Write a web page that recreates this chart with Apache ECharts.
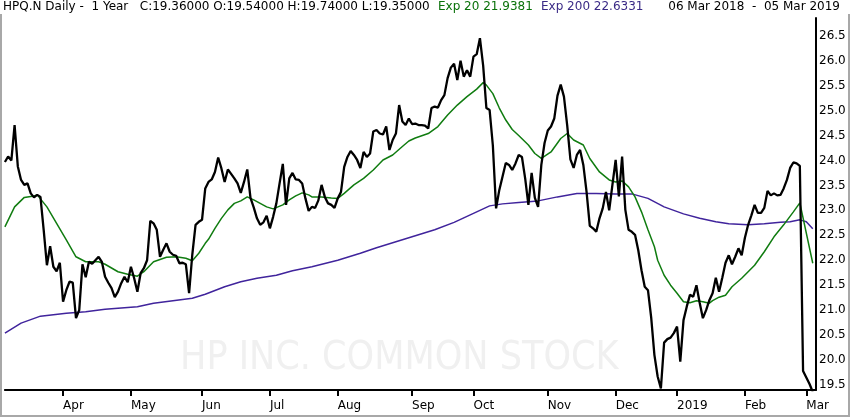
<!DOCTYPE html>
<html>
<head>
<meta charset="UTF-8">
<title>HPQ.N Daily</title>
<script src="https://cdn.jsdelivr.net/npm/echarts@6/dist/echarts.min.js"></script>
<style>
    html, body { margin: 0; padding: 0; background: #fff; }
    #main { width: 850px; height: 417px; }
</style>
</head>
<body>
<div id="main"></div>
<script>
    // trading days per month, 06 Mar 2018 .. 05 Mar 2019
    const monthLabels = ['', 'Apr', 'May', 'Jun', 'Jul', 'Aug', 'Sep', 'Oct', 'Nov', 'Dec', '2019', 'Feb', 'Mar'];
    const monthDays = [18, 21, 22, 21, 21, 23, 19, 23, 21, 19, 21, 19, 3];

    // daily close
    const closes = [
        23.97, 24.08, 24.00, 24.71, 23.88, 23.61, 23.51, 23.54, 23.34, 23.26,
        23.31, 23.27, 22.61, 21.90, 22.28, 21.87, 21.78, 21.95, 21.17, 21.40,
        21.57, 21.55, 20.84, 21.00, 21.92, 21.66, 21.97, 21.93, 22.00, 22.07,
        21.97, 21.67, 21.55, 21.44, 21.26, 21.37, 21.54, 21.67, 21.56, 21.87,
        21.64, 21.37, 21.74, 21.84, 22.00, 22.79, 22.74, 22.61, 22.07, 22.21,
        22.34, 22.17, 22.11, 22.09, 21.94, 21.95, 21.92, 21.34, 22.12, 22.71,
        22.77, 22.81, 23.44, 23.57, 23.62, 23.77, 24.06, 23.84, 23.57, 23.82,
        23.73, 23.64, 23.54, 23.35, 23.57, 23.82, 23.25, 23.06, 22.84, 22.71,
        22.76, 22.89, 22.64, 22.87, 23.14, 23.54, 23.93, 23.11, 23.64, 23.75,
        23.62, 23.61, 23.54, 23.24, 22.99, 23.07, 23.05, 23.20, 23.51, 23.27,
        23.14, 23.11, 23.05, 23.24, 23.37, 23.87, 24.07, 24.19, 24.11, 24.01,
        23.85, 24.17, 24.07, 24.14, 24.58, 24.61, 24.54, 24.52, 24.68, 24.21,
        24.41, 24.54, 25.11, 24.78, 24.71, 24.84, 24.73, 24.74, 24.71, 24.71,
        24.70, 24.64, 25.05, 25.08, 25.06, 25.21, 25.31, 25.65, 25.86, 25.94,
        25.61, 26.00, 25.68, 25.81, 25.68, 26.08, 26.13, 26.45, 25.90, 25.05,
        25.01, 24.30, 23.04, 23.41, 23.68, 23.95, 23.91, 23.81, 23.94, 24.11,
        24.07, 23.64, 23.11, 23.75, 23.25, 23.07, 23.91, 24.35, 24.60, 24.68,
        24.84, 25.30, 25.52, 25.28, 24.71, 24.02, 23.85, 24.11, 24.21, 23.91,
        23.37, 22.69, 22.64, 22.57, 22.84, 23.04, 23.37, 23.00, 23.51, 24.01,
        23.28, 24.08, 23.01, 22.61, 22.57, 22.51, 22.20, 21.80, 21.47, 21.40,
        20.85, 20.10, 19.67, 19.43, 20.35, 20.42, 20.45, 20.54, 20.67, 19.97,
        20.80, 21.07, 21.31, 21.27, 21.50, 21.15, 20.84, 21.00, 21.20, 21.34,
        21.65, 21.37, 21.65, 21.95, 22.10, 21.92, 22.07, 22.24, 22.10, 22.45,
        22.71, 22.90, 23.11, 22.95, 22.95, 23.05, 23.39, 23.30, 23.34, 23.30,
        23.31, 23.44, 23.61, 23.85, 23.96, 23.94, 23.89, 19.78, 19.65, 19.52,
        19.36
    ];

    // Exp 20, read at these day numbers
    const ema20Days = [0, 3, 6, 9, 10, 13, 16, 19, 22, 25, 29, 31, 35, 38, 41, 43, 46, 50, 53, 56,
        58, 60, 62, 63, 65, 67, 69, 71, 73, 75, 77, 79, 81, 83, 86, 88, 90, 92, 94, 95,
        98, 101, 103, 105, 108, 111, 114, 117, 120, 123, 125, 127, 131, 134, 137, 140, 143, 146, 148, 149,
        151, 153, 155, 157, 159, 162, 164, 166, 169, 172, 174, 176, 179, 181, 184, 187, 189, 191, 193, 195,
        197, 199, 201, 202, 204, 206, 208, 210, 212, 214, 216, 218, 219, 221, 223, 225, 228, 232, 235, 238,
        241, 244, 246, 250];
    const ema20Vals = [22.67, 23.07, 23.26, 23.29, 23.31, 23.07, 22.74, 22.41, 22.07, 21.97, 21.97, 21.92, 21.77, 21.72, 21.68, 21.77, 21.97, 22.06, 22.07, 22.04,
        21.99, 22.14, 22.34, 22.42, 22.64, 22.84, 23.01, 23.14, 23.19, 23.27, 23.21, 23.14, 23.07, 23.03, 23.11, 23.21, 23.29, 23.35, 23.31, 23.27,
        23.27, 23.25, 23.24, 23.34, 23.51, 23.64, 23.81, 24.01, 24.11, 24.28, 24.39, 24.45, 24.54, 24.68, 24.91, 25.11, 25.28, 25.43, 25.56, 25.51,
        25.34, 25.05, 24.81, 24.62, 24.50, 24.31, 24.14, 24.04, 24.17, 24.44, 24.54, 24.41, 24.31, 24.04, 23.77, 23.61, 23.57, 23.59, 23.47, 23.27,
        22.97, 22.61, 22.27, 22.00, 21.70, 21.50, 21.34, 21.17, 21.15, 21.19, 21.17, 21.14, 21.19, 21.26, 21.30, 21.47, 21.64, 21.90, 22.17, 22.47,
        22.71, 22.97, 23.15, 21.94];

    // Exp 200
    const ema200Days = [0, 5, 11, 19, 25, 31, 41, 46, 52, 58, 62, 68, 73, 78, 84, 89, 95, 103, 110, 115,
        122, 127, 133, 139, 145, 150, 154, 159, 165, 171, 177, 183, 189, 194, 199, 204, 210, 215, 220, 224,
        230, 235, 240, 243, 246, 248, 250];
    const ema200Vals = [20.54, 20.74, 20.88, 20.94, 20.97, 21.02, 21.07, 21.14, 21.19, 21.24, 21.32, 21.47, 21.57, 21.64, 21.70, 21.79, 21.87, 22.00, 22.14, 22.25,
        22.39, 22.49, 22.61, 22.76, 22.94, 23.09, 23.13, 23.16, 23.19, 23.27, 23.34, 23.34, 23.33, 23.33, 23.24, 23.07, 22.93, 22.84, 22.77, 22.73,
        22.71, 22.73, 22.76, 22.77, 22.81, 22.77, 22.63];

    // categories (one slot per trading day, plus one empty slot at the end)
    let days = [];
    let tickText = {};
    let n = 0;
    for (let m = 0; m < monthDays.length; m++) {
        if (monthLabels[m] !== '') tickText[n] = monthLabels[m];
        for (let d = 0; d < monthDays[m]; d++) {
            days.push(String(n));
            n++;
        }
    }
    days.push(String(n));

    const isTick = function (idx) { return tickText[idx] !== undefined; };

    let myChart = echarts.init(document.getElementById('main'), null, {renderer: 'canvas'});
    let option = {
        animation: false,
        backgroundColor: '#ffffff',
        textStyle: {fontFamily: 'DejaVu Sans'},
        grid: {left: 4.9, right: 34, top: 18, bottom: 27},
        xAxis: {
            type: 'category',
            data: days,
            boundaryGap: false,
            axisLine: {lineStyle: {color: '#000', width: 2}},
            axisTick: {
                interval: isTick,
                length: 6,
                lineStyle: {color: '#000', width: 2}
            },
            axisLabel: {
                interval: isTick,
                formatter: function (v) { return tickText[Number(v)] || ''; },
                align: 'left',
                margin: 10,
                color: '#000',
                fontSize: 12,
                fontFamily: 'DejaVu Sans'
            },
            splitLine: {show: false}
        },
        yAxis: {
            type: 'value',
            position: 'right',
            min: 19.4,
            max: 26.855,
            splitNumber: 15,
            axisLine: {show: true, lineStyle: {color: '#000', width: 2}},
            axisTick: {show: false},
            splitLine: {show: false},
            axisLabel: {
                margin: 3,
                color: '#000',
                fontSize: 12,
                fontFamily: 'DejaVu Sans',
                formatter: function (v) {
                    return Math.abs(v * 2 - Math.round(v * 2)) < 1e-6 ? v.toFixed(1) : '';
                }
            }
        },
        graphic: [
            {type: 'text', x: 180, y: 339, z: 0, silent: true,
                style: {text: 'HP INC. COMMON STOCK', fill: '#f0f0f0',
                    font: '39px "DejaVu Sans Condensed", "DejaVu Sans", sans-serif'}},
            {type: 'text', x: 3, y: 1, style: {text: 'HPQ.N Daily -  1 Year   C:19.36000 O:19.54000 H:19.74000 L:19.35000',
                fill: '#000', font: '12px "DejaVu Sans"'}},
            {type: 'text', x: 438, y: 1, style: {text: 'Exp 20 21.9381', fill: '#0a720a', font: '12px "DejaVu Sans"'}},
            {type: 'text', x: 541, y: 1, style: {text: 'Exp 200 22.6331', fill: '#3a2a86', font: '12px "DejaVu Sans"'}},
            {type: 'text', x: 840, y: 1, style: {text: '06 Mar 2018  -  05 Mar 2019', fill: '#000',
                font: '12px "DejaVu Sans"', textAlign: 'right'}},
            {type: 'polyline', silent: true,
                shape: {points: [[1, 14], [1, 416], [849, 416], [849, 14]]},
                style: {stroke: '#a8a8a8', lineWidth: 2, fill: null}}
        ],
        series: [
            {
                name: 'Exp 200',
                type: 'line',
                data: ema200Days.map(function (d, k) { return [d, ema200Vals[k]]; }),
                showSymbol: false,
                lineStyle: {color: '#40249c', width: 1.5},
                z: 3
            },
            {
                name: 'Exp 20',
                type: 'line',
                data: ema20Days.map(function (d, k) { return [d, ema20Vals[k]]; }),
                showSymbol: false,
                lineStyle: {color: '#107c10', width: 1.5},
                z: 4
            },
            {
                name: 'HPQ.N',
                type: 'line',
                data: closes,
                showSymbol: false,
                lineStyle: {color: '#000', width: 2.3},
                z: 5
            }
        ]
    };
    myChart.setOption(option);
</script>
</body>
</html>
